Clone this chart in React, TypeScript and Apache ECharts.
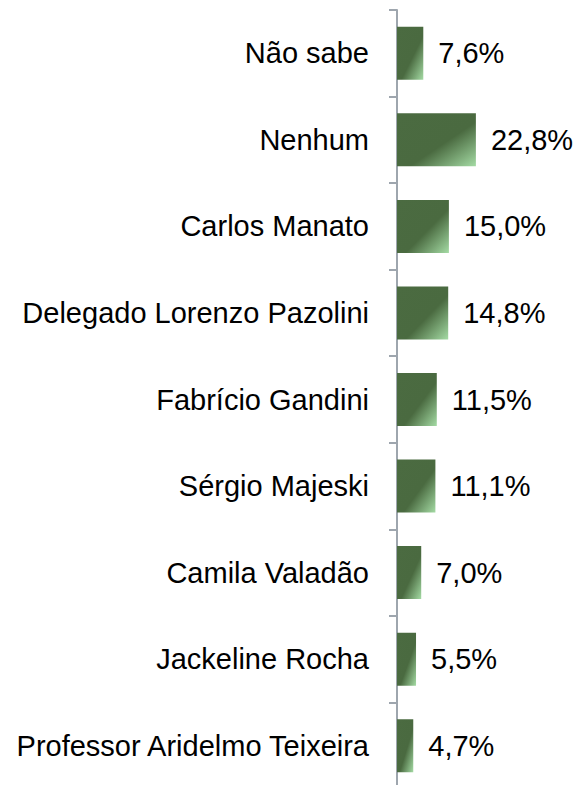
import React, { useEffect, useRef } from "react";
import * as echarts from "echarts";

const categories = [
  "Não sabe",
  "Nenhum",
  "Carlos Manato",
  "Delegado Lorenzo Pazolini",
  "Fabrício Gandini",
  "Sérgio Majeski",
  "Camila Valadão",
  "Jackeline Rocha",
  "Professor Aridelmo Teixeira",
];
const values = [7.6, 22.8, 15.0, 14.8, 11.5, 11.1, 7.0, 5.5, 4.7];

export default function App() {
  const ref = useRef<HTMLDivElement>(null);
  useEffect(() => {
    if (!ref.current) return;
    const chart = echarts.init(ref.current, null, { renderer: "svg" });
    chart.setOption({
      animation: false,
      grid: { left: 397, top: 10, width: 173, height: 779 },
      xAxis: { type: "value", min: 0, max: 50, show: false },
      yAxis: {
        type: "category",
        data: categories,
        inverse: true,
        axisLine: { show: true, lineStyle: { color: "#9ea6ae", width: 2 } },
        axisTick: { show: true, length: 8, lineStyle: { color: "#9ea6ae", width: 2 } },
        axisLabel: {
          margin: 28,
          fontSize: 29,
          color: "#000",
          fontFamily: "'Liberation Sans', Arial, sans-serif",
        },
      },
      series: [
        {
          type: "bar",
          data: values,
          barWidth: 53,
          itemStyle: {
            color: new echarts.graphic.LinearGradient(0, 0, 1, 1, [
              { offset: 0, color: "#4b6b41" },
              { offset: 0.58, color: "#4a6a40" },
              { offset: 1, color: "#a4dba4" },
            ]),
          },
          label: {
            show: true,
            position: "right",
            distance: 15,
            fontSize: 29,
            color: "#000",
            fontFamily: "'Liberation Sans', Arial, sans-serif",
            formatter: (p: any) => p.value.toFixed(1).replace(".", ",") + "%",
          },
        },
      ],
    });
    return () => chart.dispose();
  }, []);
  return (
    <div
      ref={ref}
      style={{ position: "absolute", left: 0, top: 0, width: 578, height: 800 }}
    />
  );
}
